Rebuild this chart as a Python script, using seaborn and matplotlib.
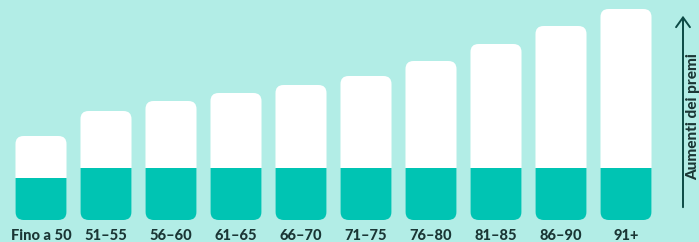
import numpy as np
import pandas as pd
import seaborn as sns
import matplotlib.pyplot as plt
from matplotlib.patches import FancyBboxPatch, FancyArrowPatch

# age groups and bar heights
age_groups = ["Fino a 50", "51–55", "56–60", "61–65", "66–70",
              "71–75", "76–80", "81–85", "86–90", "91+"]
total_height = [84, 109, 119, 127, 135, 144, 159, 176, 194, 211]
base_height = [42, 52, 52, 52, 52, 52, 52, 52, 52, 52]

bg = "#b2ede6"
teal = "#00c4b3"
dark = "#1b3635"

df = pd.DataFrame({"age": age_groups, "total": total_height, "base": base_height})

sns.set_theme(style="white")
plt.rcParams["font.family"] = ["Lato", "DejaVu Sans"]

fig = plt.figure(figsize=(6.99, 2.42), dpi=100)
fig.patch.set_facecolor(bg)
ax = fig.add_axes([8.5 / 699, 22 / 242, 650 / 699, 220 / 242])
ax.set_facecolor(bg)

sns.barplot(data=df, x="age", y="total", color="white", width=0.785,
            saturation=1, ax=ax, order=age_groups)
sns.barplot(data=df, x="age", y="base", color=teal, width=0.785,
            saturation=1, ax=ax, order=age_groups)

ax.set_xlim(-0.5, 9.5)
ax.set_ylim(0, 220)
ax.set_xlabel("")
ax.set_ylabel("")
ax.set_yticks([])
ax.set_xticks(range(len(age_groups)))
ax.set_xticklabels(age_groups, fontsize=10.5, fontweight=900, color=dark)
ax.tick_params(axis="x", length=0, pad=6.5)
for s in ax.spines.values():
    s.set_visible(False)

# turn the seaborn bars into rounded ones
px_x = 10 / 650   # data units per pixel in x
px_y = 220 / 220  # data units per pixel in y
n = len(age_groups)
white_bars = ax.patches[:n]
teal_bars = ax.patches[n:]
for wb, tb in zip(white_bars, teal_bars):
    x, y = wb.get_x(), wb.get_y()
    w, h = wb.get_width(), wb.get_height()
    rounded = FancyBboxPatch((x, y), w, h,
                             boxstyle=f"round,pad=0,rounding_size={8 * px_x}",
                             mutation_aspect=px_y / px_x,
                             facecolor="white", edgecolor="none", zorder=2)
    ax.add_patch(rounded)
    wb.set_visible(False)
    tb.set_zorder(3)
    tb.set_edgecolor("none")
    tb.set_clip_path(rounded)

# arrow on the right
fig.patches.append(FancyArrowPatch(
    (683 / 699, 32 / 242), (683 / 699, 229 / 242), transform=fig.transFigure,
    arrowstyle="->,head_length=7,head_width=5", color="#0c4a45", lw=1.4,
    mutation_scale=1))
fig.text(693.5 / 699, 62 / 242, "Aumenti dei premi", rotation=90, ha="center",
         va="bottom", fontsize=11, fontweight=900, color=dark)

fig.savefig("out.png", dpi=100, facecolor=bg)
